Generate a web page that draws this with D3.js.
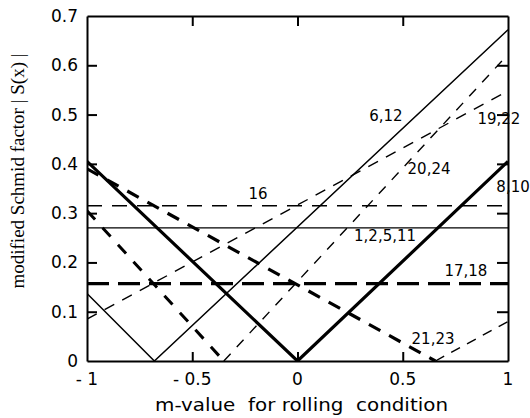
<!DOCTYPE html>
<html lang="en">
<head>
  <meta charset="UTF-8">
  <title>Schmid factor vs m-value</title>
  <script src="https://cdn.jsdelivr.net/npm/d3@7/dist/d3.min.js"></script>
  <style>
    body { margin: 0; background: #fff; }
    text { font-family: "DejaVu Sans", sans-serif; fill: #000; }
    .ylab { font-family: "Liberation Serif", "DejaVu Serif", serif; }
  </style>
</head>
<body>
<div id="grafica"></div>

<script>
// ---- data ----
const mTicks = [-1, -0.5, 0, 0.5, 1]
const mTickLabels = ['- 1', '- 0.5', '0', '0.5', '1']
const sTicks = [0, 0.1, 0.2, 0.3, 0.4, 0.5, 0.6, 0.7]

// each group: [m, |S|] break points
const s_1_2_5_11 = [[-1, 0.27], [1, 0.27]]
const s_16 = [[-1, 0.315], [1, 0.315]]
const s_17_18 = [[-1, 0.157], [1, 0.157]]
const s_6_12 = [[-1, 0.137], [-0.68, 0], [1, 0.672]]
const s_8_10 = [[-1, 0.405], [0, 0], [1, 0.405]]
const s_21_23a = [[-1, 0.39], [0.655, 0]]
const s_21_23b = [[0.655, 0], [1, 0.08]]
const s_steepA = [[-1, 0.305], [-0.35, 0]]
const s_steepB = [[-0.35, 0], [1, 0.622]]
const s_shallow = [[-1, 0.085], [1, 0.548]]

const labels = [
  ['6,12', 0.42, 0.497],
  ['19,22', 0.957, 0.491],
  ['20,24', 0.625, 0.39],
  ['8,10', 1.024, 0.353],
  ['16', -0.188, 0.339],
  ['1,2,5,11', 0.416, 0.254],
  ['17,18', 0.80, 0.183],
  ['21,23', 0.644, 0.045]
]

// ---- layout ----
ancho = 530
alto = 418
m = { top: 16, right: 22, bottom: 57, left: 87 }

svg = d3.select('#grafica')
        .append('svg')
        .attr('width', ancho)
        .attr('height', alto)

x = d3.scaleLinear().domain([-1, 1]).range([m.left, ancho - m.right])
y = d3.scaleLinear().domain([0, 0.7]).range([alto - m.bottom, m.top])

line = d3.line().x(d => x(d[0])).y(d => y(d[1]))

// line styles: width, dasharray
series = [
  [s_1_2_5_11, 1.3, null],
  [s_16, 1.3, '15,10'],
  [s_17_18, 3.2, '22,9'],
  [s_6_12, 1.5, null],
  [s_8_10, 3.2, null],
  [s_21_23a, 3.2, '13,10'],
  [s_21_23b, 1.4, '10,8'],
  [s_steepA, 3.0, '12,11'],
  [s_steepB, 1.4, '10,9'],
  [s_shallow, 1.4, '11,9']
]

plot = svg.append('g')
plot.append('clipPath').attr('id', 'clip')
    .append('rect')
    .attr('x', x(-1)).attr('y', y(0.7))
    .attr('width', x(1) - x(-1)).attr('height', y(0) - y(0.7))

plot.selectAll('path.serie')
    .data(series)
    .enter()
    .append('path')
    .attr('class', 'serie')
    .attr('clip-path', 'url(#clip)')
    .attr('d', d => line(d[0]))
    .attr('fill', 'none')
    .attr('stroke', '#000')
    .attr('stroke-width', d => d[1])
    .attr('stroke-dasharray', d => d[2])

// ---- axes (ticks inward on all four sides) ----
ejeB = d3.axisBottom(x).tickValues(mTicks.slice(1, -1)).tickSizeInner(-9).tickSizeOuter(0).tickFormat('')
ejeT = d3.axisTop(x).tickValues(mTicks.slice(1, -1)).tickSizeInner(-10).tickSizeOuter(0).tickFormat('')
ejeL = d3.axisLeft(y).tickValues(sTicks.slice(1, -1)).tickSizeInner(-10).tickSizeOuter(0).tickFormat('')
ejeR = d3.axisRight(y).tickValues(sTicks.slice(1, -1)).tickSizeInner(-11).tickSizeOuter(0).tickFormat('')

svg.append('g').attr('transform', 'translate(0,' + y(0) + ')').call(ejeB)
svg.append('g').attr('transform', 'translate(0,' + y(0.7) + ')').call(ejeT)
svg.append('g').attr('transform', 'translate(' + x(-1) + ',0)').call(ejeL)
svg.append('g').attr('transform', 'translate(' + x(1) + ',0)').call(ejeR)

svg.selectAll('.domain').attr('stroke', '#000').attr('stroke-width', 2)
svg.selectAll('.tick line').attr('stroke', '#000').attr('stroke-width', 2)

// tick labels
svg.selectAll('text.xt')
   .data(mTicks)
   .enter()
   .append('text')
   .attr('class', 'xt')
   .attr('x', d => x(d))
   .attr('y', y(0) + 24)
   .attr('text-anchor', 'middle')
   .style('font-size', '17px')
   .text((d, i) => mTickLabels[i])

svg.selectAll('text.yt')
   .data(sTicks)
   .enter()
   .append('text')
   .attr('class', 'yt')
   .attr('x', x(-1) - 9)
   .attr('y', d => y(d) + 6)
   .attr('text-anchor', 'end')
   .style('font-size', '17px')
   .text(d => d === 0 ? '0' : d3.format('.1f')(d))

// curve labels
svg.selectAll('text.lab')
   .data(labels)
   .enter()
   .append('text')
   .attr('class', 'lab')
   .attr('x', d => x(d[1]))
   .attr('y', d => y(d[2]))
   .attr('text-anchor', 'middle')
   .attr('dominant-baseline', 'central')
   .style('font-size', '15px')
   .text(d => d[0])

// axis titles
svg.append('text')
   .attr('x', 155)
   .attr('y', 411)
   .attr('textLength', 293)
   .attr('lengthAdjust', 'spacingAndGlyphs')
   .style('font-size', '17px')
   .style('white-space', 'pre')
   .text('m-value  for rolling  condition')

svg.append('text')
   .attr('class', 'ylab')
   .attr('transform', 'translate(24,171) rotate(-90)')
   .attr('text-anchor', 'middle')
   .style('font-size', '19px')
   .style('white-space', 'pre')
   .text('modified Schmid factor | S(x) |')
</script>
</body>
</html>
